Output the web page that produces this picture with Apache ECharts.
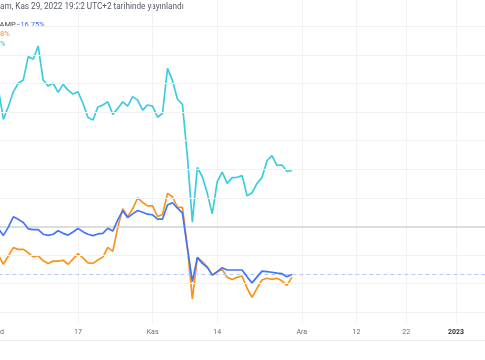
<!DOCTYPE html>
<html><head><meta charset="utf-8">
<script src="https://cdn.jsdelivr.net/npm/echarts@6/dist/echarts.min.js"></script>
<style>html,body{margin:0;padding:0;background:#fff}#c{width:485px;height:360px}</style>
</head><body><div id="c"></div>
<script>
// categories: daily from 2022-10-01
const startDate = '2022-10-01';
const dayCount = 100;
const tickDates = ['2022-10-17','2022-11-01','2022-11-14','2022-12-01','2022-12-12','2022-12-22','2023-01-01'];
const tickLabels = ['17','Kas','14','Ara','12','22','2023'];
const gridLevels = [-30,-20,-10,10,20,30,40,50,60,70];
const zeroLevel = 0;

const cyanValues = [48.1,37.5,41.9,47.1,50.1,51.2,59.4,58.5,63.1,51.2,49.1,50.1,46.9,49.7,47.7,46.3,47.1,43.1,38.2,37.2,41.8,42.5,43.6,39.2,41.3,43.6,42.1,45.4,44.2,40.7,42.5,42.1,38.2,39.6,55.3,51.0,44.5,42.7,24.4,1.5,20.7,17.4,11.6,4.4,15.7,19.0,15.1,17.1,17.2,17.8,10.7,11.8,15.1,17.1,23.0,24.8,21.4,21.5,19.3,19.5];
const orangeValues = [-10.0,-13.2,-10.3,-7.4,-8.0,-8.0,-9.2,-10.6,-10.2,-12.0,-12.9,-12.1,-12.1,-11.8,-13.2,-11.4,-9.5,-11.0,-12.7,-12.9,-11.7,-10.7,-7.3,-8.7,-0.3,6.2,3.4,6.2,10.0,8.4,7.2,7.2,3.5,4.2,11.6,10.4,6.7,6.7,-7.5,-25.3,-10.8,-12.3,-14.1,-17.0,-15.8,-15.0,-17.8,-18.5,-17.8,-17.3,-21.6,-24.8,-21.6,-18.7,-18.1,-18.5,-18.1,-19.0,-20.6,-17.8];
const blueValues = [-0.8,-3.1,-0.2,3.4,2.5,1.4,-0.8,-1.1,-1.1,-2.7,-3.1,-2.7,-1.5,-2.4,-3.0,-1.9,-0.7,-1.8,-2.7,-3.2,-2.6,-2.4,-0.6,-1.6,2.3,5.5,3.1,4.4,5.6,5.0,4.3,4.1,2.6,2.6,7.5,8.3,6.4,4.7,-7.5,-19.3,-10.8,-12.9,-14.3,-17.0,-15.8,-14.4,-15.2,-15.2,-15.2,-15.2,-17.6,-19.7,-17.6,-15.6,-15.8,-16.0,-16.3,-16.5,-17.6,-16.75];

function fmt(d){const m=d.getUTCMonth()+1, dd=d.getUTCDate();return d.getUTCFullYear()+'-'+(m<10?'0':'')+m+'-'+(dd<10?'0':'')+dd;}
const categories = [];
const s0 = new Date(startDate+'T00:00:00Z');
for (let i=0;i<dayCount;i++){categories.push(fmt(new Date(s0.getTime()+i*86400000)));}
const labelMap = {};
tickDates.forEach((d,i)=>labelMap[d]=tickLabels[i]);
const isTick = (idx, val) => labelMap[categories[idx]] !== undefined;

const FONT = 'Roboto, "Liberation Sans", Arial, sans-serif';
const chart = echarts.init(document.getElementById('c'), null, {renderer:'canvas'});
chart.setOption({
  animation:false,
  backgroundColor:'#ffffff',
  grid:{left:-1.6, right:-5.8, top:0, bottom:37, containLabel:false, outerBoundsMode:'none'},
  xAxis:{
    type:'category', data:categories, boundaryGap:false,
    axisLine:{show:false}, axisTick:{show:false},
    splitLine:{show:true, interval:isTick, lineStyle:{color:'#f2f2f2', width:1}},
    axisLabel:{
      interval:isTick, margin:6, fontSize:7, fontFamily:FONT, color:'#6a6a6a',
      formatter:(v)=>{const t=labelMap[v]; if(t===undefined) return ''; return t==='2023'?'{b|'+t+'}':t;},
      rich:{b:{fontWeight:'bold', color:'#333', fontSize:7, fontFamily:FONT}}
    }
  },
  yAxis:{type:'value', min:-33.74, max:79.2, show:false, splitLine:{show:false}},
  graphic:[
    {type:'line', shape:{x1:0,y1:340.5,x2:485,y2:340.5}, style:{stroke:'#eeeeee', lineWidth:1}},
    {type:'text', left:0, top:3, style:{text:'am, Kas 29, 2022 19:22 UTC+2 tarihinde yayınlandı', fill:'#555a66', font:'8.2px '+FONT}},
    {type:'text', x:-0.5, y:21, style:{text:'AMP', fill:'#444', font:'7.5px '+FONT}},
    {type:'text', x:16, y:21, style:{text:'\u221216.75%', fill:'#3d6ff5', font:'7.5px '+FONT}},
    {type:'text', x:0, y:30, style:{text:'8%', fill:'#f68f1e', font:'7.5px '+FONT}},
    {type:'text', x:0, y:40, style:{text:'%', fill:'#2fc4da', font:'7.5px '+FONT}},
    {type:'text', x:0, y:329, style:{text:'d', fill:'#6a6a6a', font:'7px '+FONT}}
  ],
  series:[
    {type:'line', data:[], silent:true, z:1,
      markLine:{silent:true, symbol:'none', label:{show:false},
        data:[
          ...gridLevels.map(v=>({yAxis:v, lineStyle:{color:'#f2f2f2', width:1, type:'solid'}})),
          {yAxis:zeroLevel, lineStyle:{color:'#d2d2d2', width:1.5, type:'solid'}}
        ]}},
    {name:'cyan', type:'line', data:cyanValues, symbol:'none', z:3,
      lineStyle:{color:'#3ccbdf', width:1.7}, itemStyle:{color:'#3ccbdf'}},
    {name:'orange', type:'line', data:orangeValues, symbol:'none', z:4,
      lineStyle:{color:'#f7941f', width:1.7}, itemStyle:{color:'#f7941f'}},
    {name:'AMP', type:'line', data:blueValues, symbol:'none', z:5,
      lineStyle:{color:'#4475f6', width:1.7}, itemStyle:{color:'#4475f6'},
      markLine:{silent:true, symbol:'none', label:{show:false},
        data:[{yAxis:blueValues[blueValues.length-1]}],
        lineStyle:{color:'#b4c8fb', width:1, type:[4,3]}}}
  ]
});
</script></body></html>
